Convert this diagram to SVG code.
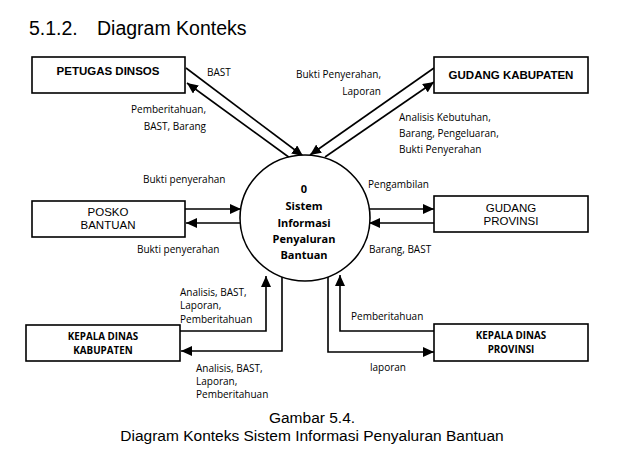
<svg xmlns="http://www.w3.org/2000/svg" width="618" height="462" viewBox="0 0 618 462">
<defs>
<marker id="ah" markerUnits="userSpaceOnUse" markerWidth="12" markerHeight="10" refX="11" refY="5" orient="auto">
<path d="M0,0 L11,5 L0,10 z" fill="#000"/>
</marker>
<style>
.box{fill:#fff;stroke:#000;stroke-width:1.6}
.ln{fill:none;stroke:#000;stroke-width:1.6;marker-end:url(#ah)}
.arial{font-family:"Liberation Sans",Arial,sans-serif;fill:#000}
.bb{font-family:"Liberation Sans",Arial,sans-serif;font-weight:bold;font-size:11.5px;text-anchor:middle}
.nb{font-family:"Liberation Sans",Arial,sans-serif;font-size:11.5px;text-anchor:middle}
.cb{font-family:"Open Sans","Liberation Sans",sans-serif;font-weight:bold;font-size:9.8px;text-anchor:middle}
.lbl{font-family:"Open Sans","Liberation Sans",sans-serif;font-size:10px;fill:#000}
.ct{font-family:"Open Sans","Liberation Sans",sans-serif;font-weight:bold;font-size:11px;text-anchor:middle}
.end{text-anchor:end}
</style>
</defs>
<rect width="618" height="462" fill="#fff"/>
<g id="title" class="arial" font-size="19.5">
<text x="29" y="35">5.1.2.</text>
<text x="97" y="35">Diagram Konteks</text>
</g>

<g id="connectors">
<line class="ln" x1="186" y1="68" x2="303" y2="156"/>
<line class="ln" x1="290" y1="158" x2="187" y2="83"/>
<line class="ln" x1="434" y1="68" x2="310" y2="155"/>
<line class="ln" x1="325" y1="157" x2="434" y2="82"/>
<line class="ln" x1="185" y1="209" x2="241" y2="209"/>
<line class="ln" x1="241" y1="223" x2="186" y2="223"/>
<line class="ln" x1="369" y1="209" x2="434" y2="209"/>
<line class="ln" x1="434" y1="223" x2="369" y2="223"/>
<path class="ln" d="M180,331 H266 V276"/>
<path class="ln" d="M282,277 V351 H181"/>
<path class="ln" d="M434,331 H340 V275"/>
<path class="ln" d="M328,277 V352 H434"/>
</g>

<g id="labels" class="lbl">
<text x="207" y="76">BAST</text>
<text class="end" x="206" y="113">Pemberitahuan,</text>
<text class="end" x="206" y="130">BAST, Barang</text>
<text class="end" x="381" y="78">Bukti Penyerahan,</text>
<text class="end" x="381" y="95">Laporan</text>
<text x="399" y="121">Analisis Kebutuhan,</text>
<text x="399" y="137">Barang, Pengeluaran,</text>
<text x="399" y="153">Bukti Penyerahan</text>
<text x="143" y="183">Bukti penyerahan</text>
<text x="137" y="253">Bukti penyerahan</text>
<text x="368" y="188">Pengambilan</text>
<text x="369" y="253">Barang, BAST</text>
<text x="180" y="296">Analisis, BAST,</text>
<text x="180" y="309">Laporan,</text>
<text x="180" y="323">Pemberitahuan</text>
<text x="196" y="372">Analisis, BAST,</text>
<text x="196" y="385">Laporan,</text>
<text x="196" y="398">Pemberitahuan</text>
<text x="351" y="320">Pemberitahuan</text>
<text x="370" y="371">laporan</text>
</g>

<g id="process">
<ellipse cx="305" cy="218" rx="65" ry="63" fill="#fff" stroke="#000" stroke-width="1.6"/>
<text class="ct" x="304" y="193">0</text>
<text class="ct" x="304" y="210">Sistem</text>
<text class="ct" x="304" y="227">Informasi</text>
<text class="ct" x="304" y="243">Penyaluran</text>
<text class="ct" x="304" y="259">Bantuan</text>
</g>

<g id="petugas-dinsos">
<rect class="box" x="32" y="57" width="153" height="36"/>
<text class="bb" x="108" y="75">PETUGAS DINSOS</text>
</g>
<g id="gudang-kabupaten">
<rect class="box" x="434" y="57" width="154" height="36"/>
<text class="bb" x="511" y="79">GUDANG KABUPATEN</text>
</g>
<g id="posko-bantuan">
<rect class="box" x="32" y="201" width="153" height="36"/>
<text class="nb" x="108" y="216">POSKO</text>
<text class="nb" x="108" y="229">BANTUAN</text>
</g>
<g id="gudang-provinsi">
<rect class="box" x="434" y="196" width="154" height="36"/>
<text class="nb" x="511" y="212">GUDANG</text>
<text class="nb" x="511" y="225">PROVINSI</text>
</g>
<g id="kepala-dinas-kabupaten">
<rect class="box" x="26" y="325" width="154" height="36"/>
<text class="cb" x="103" y="340">KEPALA DINAS</text>
<text class="cb" x="103" y="354">KABUPATEN</text>
</g>
<g id="kepala-dinas-provinsi">
<rect class="box" x="434" y="324" width="154" height="37"/>
<text class="cb" x="511" y="339">KEPALA DINAS</text>
<text class="cb" x="511" y="353">PROVINSI</text>
</g>

<g id="caption" class="arial" font-size="15.5" text-anchor="middle">
<text x="312" y="423">Gambar 5.4.</text>
<text x="312" y="441">Diagram Konteks Sistem Informasi Penyaluran Bantuan</text>
</g>
</svg>
